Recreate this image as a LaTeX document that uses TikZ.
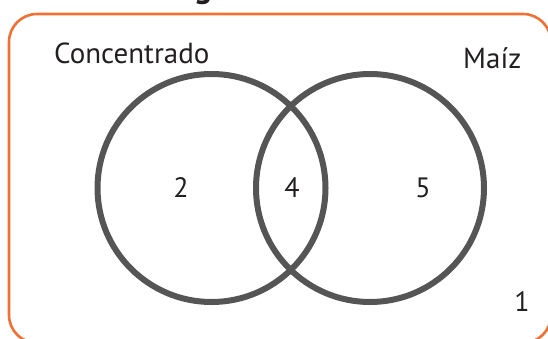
\documentclass[tikz,border=0pt]{standalone}
\usepackage{fontspec}
\setmainfont{PT Sans}
\definecolor{frameorange}{RGB}{242,112,52}
\definecolor{ringgray}{RGB}{85,85,85}
\definecolor{inkdark}{RGB}{35,31,32}
\begin{document}
\begin{tikzpicture}[x=1pt,y=-1pt,
  ring/.style={circle, draw=ringgray, line width=6pt, minimum size=228pt, inner sep=0pt},
  lbl/.style={text=inkdark, font=\fontsize{29}{32}\selectfont, inner sep=0pt},
  num/.style={text=inkdark, font=\fontsize{28}{31}\selectfont, inner sep=0pt}]
\useasboundingbox (0,0) rectangle (548,338);
\clip (0,0) rectangle (548,338);
\node[lbl, anchor=base, font=\fontsize{34}{36}\selectfont\bfseries] (title) at (203,-3) {g};
\draw[frameorange, line width=2.6pt, rounded corners=28pt] (9,14) rectangle (551,343);
\node[ring] (A) at (211.5,188) {};
\node[ring] (B) at (370,188) {};
\node[lbl, anchor=base west] (conc) at (54,63) {Concentrado};
\node[lbl, anchor=base west] (maiz) at (463,68) {Maíz};
\node[num] (n2) at (181,188) {2};
\node[num] (n4) at (292,188) {4};
\node[num] (n5) at (423,188) {5};
\node[num] (n1) at (522,302) {1};
\end{tikzpicture}
\end{document}
